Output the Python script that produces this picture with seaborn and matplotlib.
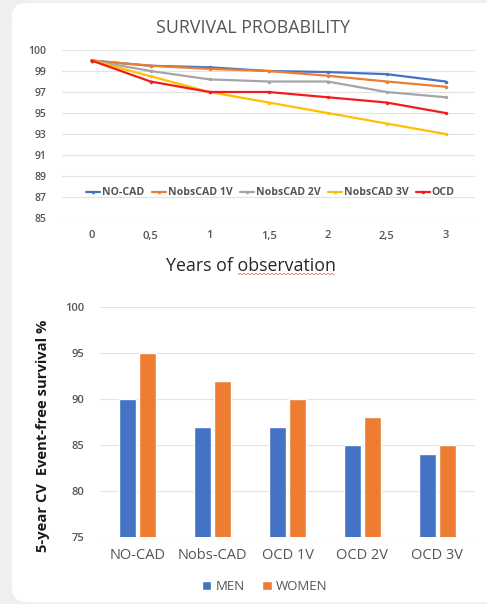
import numpy as np
import pandas as pd
import matplotlib
matplotlib.use("Agg")
import matplotlib.pyplot as plt
from matplotlib.patches import FancyBboxPatch
from matplotlib.lines import Line2D
from matplotlib.transforms import IdentityTransform
import seaborn as sns

# ---------------- data ----------------
years = [0, 0.5, 1, 1.5, 2, 2.5, 3]
year_labels = ["0", "0,5", "1", "1,5", "2", "2,5", "3"]
no_cad = [100, 99.5, 99.35, 99.0, 98.9, 98.7, 98.0]
nobs_1v = [100, 99.5, 99.2, 99.0, 98.55, 98.0, 97.5]
nobs_2v = [100, 99.0, 98.2, 98.0, 98.0, 97.0, 96.5]
nobs_3v = [100, 98.5, 97.0, 96.0, 95.0, 94.0, 93.0]
ocd = [100, 98.0, 97.0, 97.0, 96.5, 96.0, 95.0]
series_names = ["NO-CAD", "NobsCAD 1V", "NobsCAD 2V", "NobsCAD 3V", "OCD"]
top_ticks = [85, 87, 89, 91, 93, 95, 97, 99, 101]
top_tick_labels = ["85", "87", "89", "91", "93", "95", "97", "99", "100"]

groups = ["NO-CAD", "Nobs-CAD", "OCD 1V", "OCD 2V", "OCD 3V"]
men = [90, 87, 87, 85, 84]
women = [95, 92, 90, 88, 85]
bar_ticks = [75, 80, 85, 90, 95, 100]

# ---------------- style ----------------
sns.set_theme(style="white")
plt.rcParams['font.family'] = ['Open Sans', 'DejaVu Sans']
TXT = "#555555"
GRID = "#e3e3e3"
line_colors = ["#4472C4", "#ED7D31", "#A5A5A5", "#FFC000", "#F21C1C"]
bar_colors = ["#4472C4", "#ED7D31"]

W, H = 487, 604
fig = plt.figure(figsize=(W / 100, H / 100), dpi=100, facecolor="#efefef")

card = FancyBboxPatch((12, 2), 500, 599, boxstyle="round,pad=0,rounding_size=14",
                      transform=IdentityTransform(), facecolor="white", edgecolor="none",
                      zorder=-10)
fig.patches.append(card)

def fx(px):
    return np.asarray(px) / W

def fy(py):
    return 1 - np.asarray(py) / H

# ---------------- top: line chart ----------------
ax1 = fig.add_axes([fx(62), fy(218), fx(475) - fx(62), fy(50) - fy(218)])
ax1.set_facecolor("none")
df_line = pd.DataFrame({
    "year": years * 5,
    "value": no_cad + nobs_1v + nobs_2v + nobs_3v + ocd,
    "series": sum([[n] * len(years) for n in series_names], []),
})
sns.lineplot(data=df_line, x="year", y="value", hue="series", hue_order=series_names,
             palette=line_colors, marker="o", markersize=2.5, markeredgewidth=0,
             linewidth=1.6, ax=ax1, legend=False)
ax1.set_xlim(-0.25, 3.25)
ax1.set_ylim(85, 101)
ax1.set_yticks(top_ticks)
ax1.set_yticklabels(top_tick_labels)
ax1.set_xticks(years)
ax1.set_xticklabels(year_labels)
ax1.set_xlabel("")
ax1.set_ylabel("")
ax1.grid(axis="y", color=GRID, linewidth=0.8)
ax1.set_axisbelow(True)
for s in ax1.spines.values():
    s.set_visible(False)
ax1.tick_params(axis="y", labelsize=7.5, colors=TXT, length=0, pad=11)
ax1.tick_params(axis="x", labelsize=8, colors=TXT, length=0, pad=9)
for lab in ax1.get_yticklabels() + ax1.get_xticklabels():
    lab.set_fontweight("semibold")

handles = [Line2D([0], [0], color=c, lw=1.6, marker="o", markersize=2.5, markeredgewidth=0)
           for c in line_colors]
leg = ax1.legend(handles, series_names, loc="center", bbox_to_anchor=(0.505, 0.149),
                 ncol=5, frameon=False, fontsize=7.6, handlelength=1.3, handletextpad=0.2,
                 columnspacing=0.7)
for t in leg.get_texts():
    t.set_color(TXT)
    t.set_fontweight("bold")

fig.text(fx(253), fy(28), "SURVIVAL PROBABILITY", ha="center", va="center",
         fontsize=12.8, color=TXT)
fig.text(fx(251), fy(266), "Years of observation", ha="center", va="center",
         fontsize=12.8, color="#262626")
# spell-check squiggle under "observation"
sx = np.linspace(238, 334, 49)
sy = 274 + 0.8 * np.array([(-1) ** i for i in range(len(sx))])
fig.add_artist(Line2D(fx(sx), fy(sy), color="#e06060", lw=0.5, transform=fig.transFigure))

# ---------------- bottom: bar chart ----------------
ax2 = fig.add_axes([fx(100), fy(537), fx(475) - fx(100), fy(307) - fy(537)])
ax2.set_facecolor("none")
df_bar = pd.DataFrame({
    "group": groups * 2,
    "value": men + women,
    "sex": ["MEN"] * len(groups) + ["WOMEN"] * len(groups),
})
sns.barplot(data=df_bar, x="group", y="value", hue="sex", palette=bar_colors,
            width=0.52, gap=0.12, ax=ax2, saturation=1, legend=True)
ax2.set_ylim(75, 100)
ax2.set_xlim(-0.5, 4.5)
ax2.set_yticks(bar_ticks)
ax2.set_xlabel("")
ax2.set_ylabel("")
ax2.grid(axis="y", color=GRID, linewidth=0.8)
ax2.set_axisbelow(True)
for s in ax2.spines.values():
    s.set_visible(False)
ax2.tick_params(axis="y", labelsize=8, colors=TXT, length=0, pad=11)
ax2.tick_params(axis="x", labelsize=10.5, colors=TXT, length=0, pad=8)
for lab in ax2.get_yticklabels():
    lab.set_fontweight("semibold")

leg2 = ax2.legend(loc="center", bbox_to_anchor=(0.44, -0.217), ncol=2, frameon=False,
                  fontsize=9.5, handlelength=0.7, handleheight=0.7, handletextpad=0.35,
                  columnspacing=1.3)
for t in leg2.get_texts():
    t.set_color(TXT)

fig.text(fx(43), fy(436), "5-year CV  Event-free survival %", rotation=90,
         ha="center", va="center", fontsize=10.6, fontweight="bold", color="#1a1a1a")

fig.savefig("out.png", dpi=100, facecolor=fig.get_facecolor())
